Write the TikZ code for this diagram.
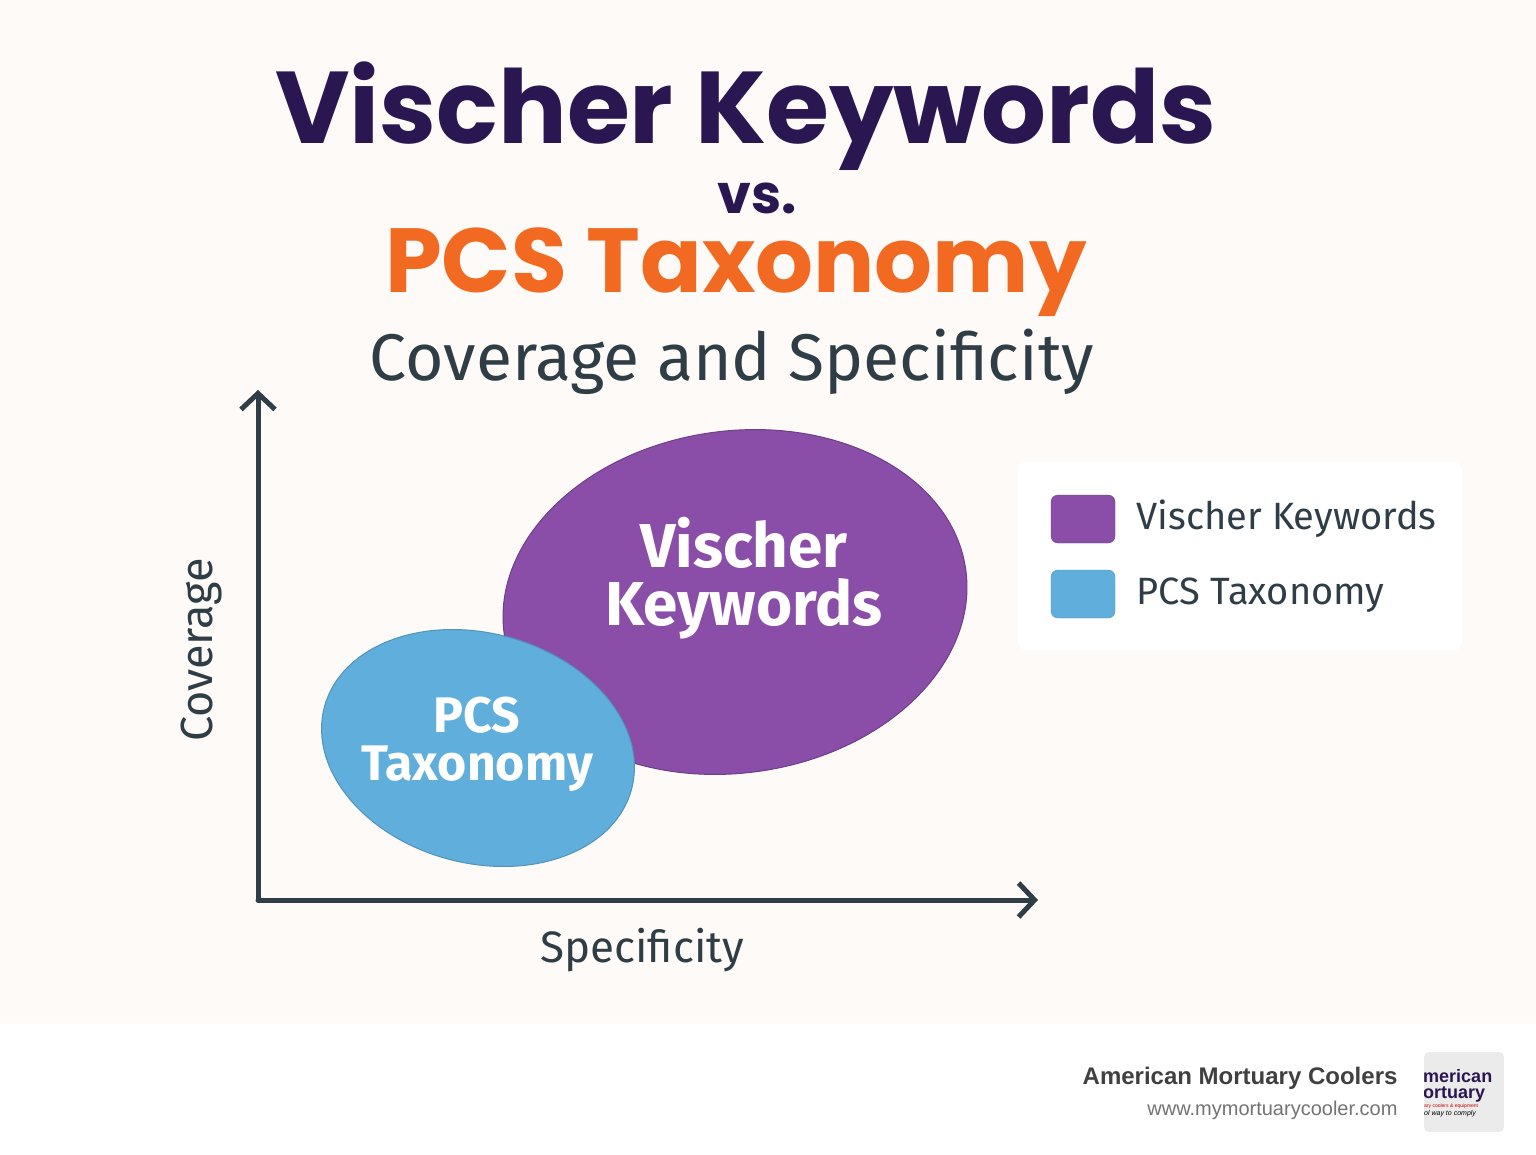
\documentclass[tikz,border=0pt]{standalone}
\usepackage{fontspec}
\setmainfont{Poppins}
\newfontfamily\bodyf{Fira Sans}
\newfontfamily\footf{Liberation Sans}
\usetikzlibrary{arrows.meta}
\definecolor{bg}{HTML}{FDFAF7}
\definecolor{navy}{HTML}{2A1650}
\definecolor{orng}{HTML}{F26A21}
\definecolor{slate}{HTML}{2F3E46}
\definecolor{purp}{HTML}{8A4EA8}
\definecolor{blu}{HTML}{5FAEDC}
\tikzset{axis/.style={slate,line width=5pt,line cap=round,-{Straight Barb[length=16pt,width=34pt,line width=5pt]}},
 lab/.style={text=slate,font=\bodyf\fontsize{45}{48}\selectfont},
 leg/.style={text=slate,font=\bodyf\fontsize{38}{42}\selectfont,anchor=west},
 inner/.style={text=white,font=\bodyf\bfseries\fontsize{60}{62}\selectfont,align=center}}
\begin{document}
\begin{tikzpicture}[x=1pt,y=-1pt]
\useasboundingbox (0,0) rectangle (1536,1154);
\fill[bg] (0,0) rectangle (1536,1023);
\fill[white] (0,1023) rectangle (1536,1154);
\node[text=navy,font=\bfseries\fontsize{102}{110}\selectfont] (t1) at (746,116) {Vischer Keywords};
\node[text=navy,font=\bfseries\fontsize{54}{58}\selectfont] (t2) at (757,198) {vs.};
\node[text=orng,font=\bfseries\fontsize{91}{96}\selectfont] (t3) at (736,272) {PCS Taxonomy};
\node[text=slate,font=\bodyf\fontsize{66}{70}\selectfont] (t4) at (732,362) {Coverage and Specificity};
\coordinate (o) at (258,900);
\coordinate (ytop) at (258,390);
\coordinate (xend) at (1038,900);
\draw[axis] (o) -- (ytop);
\draw[axis] (o) -- (xend);
\node[lab,rotate=90] (yl) at (202,650) {Coverage};
\node[lab,font=\bodyf\fontsize{44}{48}\selectfont] (xl) at (642,950) {Specificity};
\fill[purp] (735,602) ellipse[x radius=233,y radius=171,rotate=8];
\draw[purp!80!black,line width=1pt] (735,602) ellipse[x radius=233,y radius=171,rotate=8];
\fill[blu] (478,748) ellipse[x radius=159,y radius=115,rotate=-15];
\draw[blu!85!black,line width=1pt] (478,748) ellipse[x radius=159,y radius=115,rotate=-15];
\node[inner,font=\bodyf\bfseries\fontsize{62}{64}\selectfont] (vk) at (744,578) {Vischer\\[-6pt]Keywords};
\node[inner,font=\bodyf\bfseries\fontsize{50}{52}\selectfont] (pt) at (477,744) {PCS\\[-4pt]Taxonomy};
\fill[white,rounded corners=8pt] (1018,462) rectangle (1462,650);
\fill[purp,draw=purp!80!black,rounded corners=7pt] (1051,495) rectangle (1115,543);
\fill[blu,draw=blu!85!black,rounded corners=7pt] (1051,570) rectangle (1115,618);
\node[leg] (l1) at (1133,519) {Vischer Keywords};
\node[leg] (l2) at (1133,595) {PCS Taxonomy};
\node[anchor=east,text=black!75,font=\footf\bfseries\fontsize{24}{26}\selectfont] (f1) at (1401,1078) {American Mortuary Coolers};
\node[anchor=east,text=black!55,font=\footf\fontsize{20}{22}\selectfont] (f2) at (1401,1110) {www.mymortuarycooler.com};
\begin{scope}
\clip[rounded corners=5pt] (1424,1052) rectangle (1504,1132);
\fill[black!8] (1424,1052) rectangle (1504,1132);
\node[anchor=west,text=navy,font=\footf\bfseries\fontsize{18}{20}\selectfont,inner sep=0pt] (g1) at (1423,1076) {merican};
\node[anchor=west,text=navy,font=\footf\bfseries\fontsize{18}{20}\selectfont,inner sep=0pt] (g2) at (1423,1094) {ortuary};
\node[anchor=west,text=red!80!black,font=\footf\fontsize{5}{6}\selectfont,inner sep=0pt] (g3) at (1424,1106) {ary coolers \& equipment};
\node[anchor=west,text=black,font=\footf\itshape\fontsize{7}{8}\selectfont,inner sep=0pt] (g4) at (1424,1114) {ol way to comply};
\end{scope}
\end{tikzpicture}
\end{document}
